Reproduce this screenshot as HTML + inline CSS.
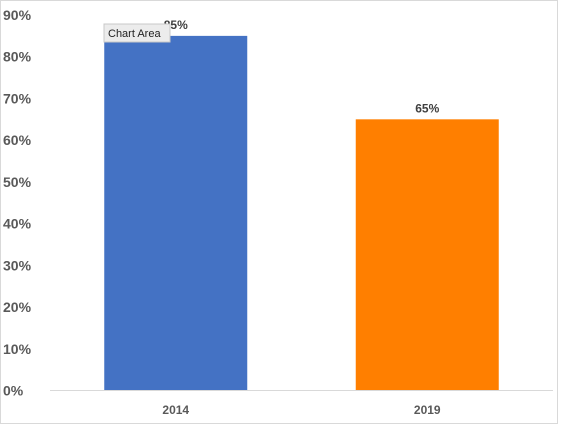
<!DOCTYPE html>
<html><head><meta charset="utf-8"><style>
body{margin:0;width:566px;height:425px;background:#fff;overflow:hidden;font-family:"Liberation Sans",sans-serif;}
svg text{font-family:"Liberation Sans",sans-serif;}
</style></head><body>
<svg width="566" height="425">
<rect x="0.5" y="0.5" width="557" height="423" fill="#fff" stroke="#d9d9d9"/>
<g id="g"></g>
<rect x="104" y="24" width="66" height="18" fill="#ececec" stroke="#c8c8c8"/>
<text x="108" y="37" font-size="11" fill="#222">Chart Area</text>
</svg>
<script>
const categories=["2014","2019"];
const values=[85,65];
const colors=["#4472c4","#ff7f00"];
const ticks=[0,10,20,30,40,50,60,70,80,90];
const g=document.getElementById('g');
const NS='http://www.w3.org/2000/svg';
const y=v=>390.5-v*4.172;
const x0=50,x1=553,band=(x1-x0)/categories.length,bw=143;
function mk(t,a){const e=document.createElementNS(NS,t);for(const k in a)e.setAttribute(k,a[k]);g.appendChild(e);return e;}
ticks.forEach(t=>{const e=mk('text',{x:3,y:y(t)+5,'font-size':14,'font-weight':'bold',fill:'#595959'});e.textContent=t+'%';

});
const ax=mk('line',{x1:x0,x2:x1,y1:390.5,y2:390.5,stroke:'#d9d9d9'});


categories.forEach((c,i)=>{const cx=x0+band*(i+0.5);
const r=mk('rect',{x:cx-bw/2,y:y(values[i]),width:bw,height:390-y(values[i]),fill:colors[i]});


const l=mk('text',{x:cx,y:y(values[i])-7,'font-size':12,'font-weight':'bold',fill:'#404040','text-anchor':'middle'});l.textContent=values[i]+'%';


const t=mk('text',{x:cx,y:414,'font-size':12,'font-weight':'bold',fill:'#595959','text-anchor':'middle'});t.textContent=c;

});
</script>
</body></html>
